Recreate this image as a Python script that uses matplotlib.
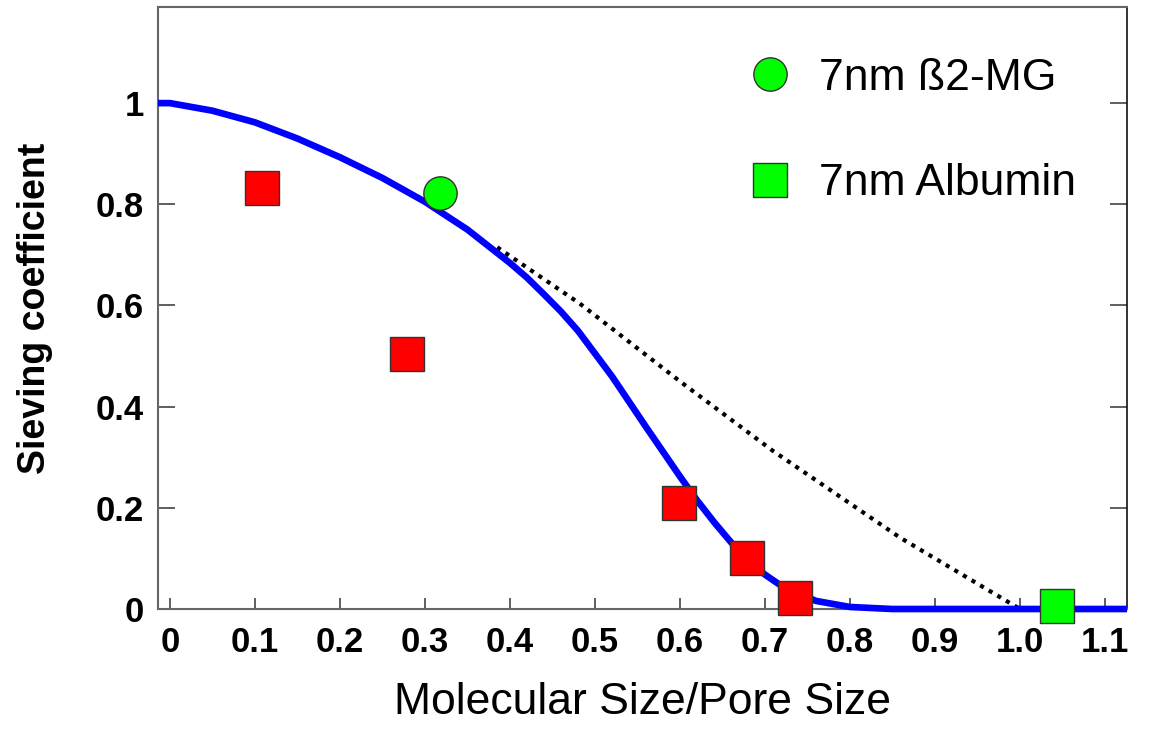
import matplotlib.pyplot as plt
import numpy as np

# fitted sieving curve (solid blue)
curve_x = [-0.014, 0.0, 0.05, 0.10, 0.15, 0.20, 0.25, 0.30, 0.35, 0.40, 0.42, 0.44, 0.46, 0.48,
           0.52, 0.56, 0.60, 0.62, 0.64, 0.66, 0.68, 0.70, 0.72, 0.76, 0.80, 0.85, 1.126]
curve_y = [1.0, 1.0, 0.985, 0.962, 0.930, 0.893, 0.852, 0.805, 0.750, 0.684, 0.655, 0.622, 0.588, 0.550,
           0.460, 0.360, 0.262, 0.215, 0.172, 0.132, 0.097, 0.068, 0.045, 0.016, 0.004, 0.0, 0.0]

# dotted reference curve
dot_x = [0.385, 0.482, 0.600, 0.709, 0.859, 1.0]
dot_y = [0.715, 0.604, 0.450, 0.313, 0.141, 0.0]

# measured points
red_x = [0.108, 0.279, 0.599, 0.679, 0.735]
red_y = [0.832, 0.505, 0.210, 0.101, 0.022]
b2mg_x = [0.318]
b2mg_y = [0.822]
alb_x = [1.044]
alb_y = [0.006]

xticks = [0, 0.1, 0.2, 0.3, 0.4, 0.5, 0.6, 0.7, 0.8, 0.9, 1.0, 1.1]
xticklabels = ["0", "0.1", "0.2", "0.3", "0.4", "0.5", "0.6", "0.7", "0.8", "0.9", "1.0", "1.1"]
yticks = [0, 0.2, 0.4, 0.6, 0.8, 1.0]
yticklabels = ["0", "0.2", "0.4", "0.6", "0.8", "1"]

plt.rcParams["font.family"] = ["Liberation Sans", "DejaVu Sans"]

fig = plt.figure(figsize=(11.56, 7.29), dpi=100)
ax = fig.add_axes([0.1367, 0.1646, 0.8383, 0.8258])

ax.plot(dot_x, dot_y, color="black", linestyle=(0, (1, 1.4)), linewidth=3, zorder=2)
ax.plot(curve_x, curve_y, color="#0000ff", linewidth=4.8, zorder=3, clip_on=False,
        solid_capstyle="butt", solid_joinstyle="round")

mk = dict(markersize=24, markeredgecolor="#333333", markeredgewidth=1.0,
          linestyle="none", zorder=5, clip_on=False)
ax.plot(red_x, red_y, marker="s", markerfacecolor="#ff0000", **mk)
ax.plot(b2mg_x, b2mg_y, marker="o", markerfacecolor="#00ff00", label="7nm ß2-MG", **mk)
ax.plot(alb_x, alb_y, marker="s", markerfacecolor="#00ff00", label="7nm Albumin", **mk)

ax.set_xlim(-0.014, 1.126)
ax.set_ylim(0, 1.19)

ax.set_xticks(xticks)
ax.set_xticklabels(xticklabels, fontsize=25, fontweight="bold")
ax.set_yticks(yticks)
ax.set_yticklabels(yticklabels, fontsize=25, fontweight="bold")
ax.tick_params(axis="both", direction="in", length=8, width=1.2, color="#444444")
ax.tick_params(axis="x", pad=12)
ax.tick_params(axis="y", pad=10, right=True, length=12)

for side in ["left", "top", "bottom"]:
    ax.spines[side].set_color("#666666")
    ax.spines[side].set_linewidth(1.5)
ax.spines["right"].set_color("#111111")
ax.spines["right"].set_linewidth(1.2)

ax.set_xlabel("Molecular Size/Pore Size", fontsize=32, labelpad=17)
ax.set_ylabel("Sieving coefficient", fontsize=27, fontweight="bold", labelpad=31)

ax.legend(loc="upper left", bbox_to_anchor=(0.586, 0.945), frameon=False,
          fontsize=32, labelspacing=1.45, handletextpad=0.5, handlelength=1.2,
          borderaxespad=0)

fig.savefig("out.png", dpi=100)
